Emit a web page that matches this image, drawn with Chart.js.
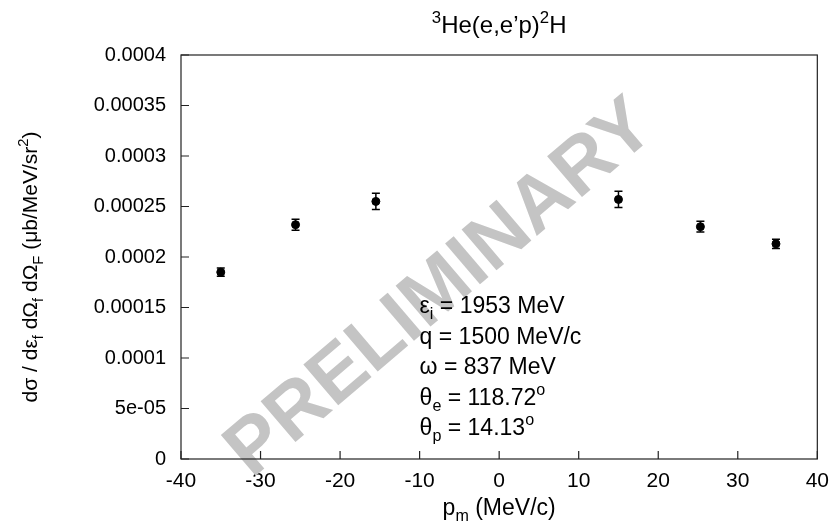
<!DOCTYPE html>
<html><head><meta charset="utf-8">
<script src="https://cdn.jsdelivr.net/npm/chart.js@4/dist/chart.umd.min.js"></script>
<style>html,body{margin:0;padding:0;background:#fff}#wrap{width:839px;height:526px;position:relative}</style>
</head><body><div id="wrap"><canvas id="c" width="839" height="526"></canvas></div>
<script>
// ---- data ----
const pm = [-35, -25.6, -15.5, 15, 25.3, 34.8];
const xsec = [0.000185, 0.000232, 0.000255, 0.000257, 0.000230, 0.000213];
const xsecErr = [0.000004, 0.0000055, 0.000008, 0.000008, 0.0000053, 0.0000045];
const yTickLabels = ['0','5e-05','0.0001','0.00015','0.0002','0.00025','0.0003','0.00035','0.0004'];
const titleParts = [['3','sup'],['He(e,e\u2019p)'],['2','sup'],['H']];
const xLabelParts = [['p'],['m','sub'],[' (MeV/c)']];
const yLabelParts = [['d\u03c3 / d\u03b5'],['f','sub'],[' d\u03a9'],['f','sub'],[' d\u03a9'],['F','sub'],[' (\u03bcb/MeV/sr'],['2','sup'],[')']];
const infoLines = [
  [['\u03b5'],['i','sub'],[' = 1953 MeV']],
  [['q = 1500 MeV/c']],
  [['\u03c9 = 837 MeV']],
  [['\u03b8'],['e','sub'],[' = 118.72'],['o','sup']],
  [['\u03b8'],['p','sub'],[' = 14.13'],['o','sup']]
];
const watermark = 'PRELIMINARY';

const FAM = '"Liberation Sans", Arial, Helvetica, sans-serif';

function richWidth(ctx, parts, size){
  let w = 0;
  for (const p of parts){ ctx.font = (p[1] ? size*0.7 : size) + 'px ' + FAM; w += ctx.measureText(p[0]).width; }
  return w;
}
function drawRich(ctx, parts, x, y, size, align){
  const w = richWidth(ctx, parts, size);
  let cx = align === 'center' ? x - w/2 : x;
  ctx.textAlign = 'left'; ctx.textBaseline = 'alphabetic';
  for (const p of parts){
    ctx.font = (p[1] ? size*0.7 : size) + 'px ' + FAM;
    const dy = p[1] === 'sub' ? size*0.28 : (p[1] === 'sup' ? -size*0.42 : 0);
    ctx.fillText(p[0], cx, y + dy);
    cx += ctx.measureText(p[0]).width;
  }
}

const decor = {
  id: 'decor',
  beforeDatasetsDraw(chart){
    const {ctx, chartArea: a, scales: {x, y}} = chart;
    // watermark
    ctx.save();
    ctx.translate(x.getPixelForValue(-7.3), y.getPixelForValue(0.000168));
    ctx.rotate(-40.5 * Math.PI/180);
    ctx.fillStyle = '#c4c4c4';
    ctx.font = 'bold 78px ' + FAM;
    ctx.textAlign = 'center'; ctx.textBaseline = 'middle';
    ctx.fillText(watermark, 0, 0);
    ctx.restore();
    // error bars
    ctx.save();
    ctx.strokeStyle = '#000'; ctx.lineWidth = 1.5;
    for (let i = 0; i < pm.length; i++){
      const px = x.getPixelForValue(pm[i]);
      const lo = y.getPixelForValue(xsec[i] - xsecErr[i]);
      const hi = y.getPixelForValue(xsec[i] + xsecErr[i]);
      ctx.beginPath();
      ctx.moveTo(px, lo); ctx.lineTo(px, hi);
      ctx.moveTo(px-4, lo); ctx.lineTo(px+4, lo);
      ctx.moveTo(px-4, hi); ctx.lineTo(px+4, hi);
      ctx.stroke();
    }
    ctx.restore();
  },
  afterDraw(chart){
    const {ctx, chartArea: a, scales: {x, y}} = chart;
    ctx.save();
    // frame
    ctx.strokeStyle = '#222'; ctx.lineWidth = 1.2;
    ctx.strokeRect(a.left, a.top, a.right - a.left, a.bottom - a.top);
    // inward ticks
    ctx.beginPath();
    for (const t of x.ticks){
      const px = x.getPixelForValue(t.value);
      ctx.moveTo(px, a.bottom); ctx.lineTo(px, a.bottom - 8);
    }
    for (const t of y.ticks){
      const py = y.getPixelForValue(t.value);
      ctx.moveTo(a.left, py); ctx.lineTo(a.left + 8, py);
    }
    ctx.stroke();
    ctx.fillStyle = '#000';
    // title
    drawRich(ctx, titleParts, (a.left + a.right)/2, 33, 24, 'center');
    // x label
    drawRich(ctx, xLabelParts, (a.left + a.right)/2, 515, 23, 'center');
    // y label
    ctx.save();
    ctx.translate(37, (a.top + a.bottom)/2 + 10);
    ctx.rotate(-Math.PI/2);
    drawRich(ctx, yLabelParts, 0, 0, 21, 'center');
    ctx.restore();
    // info block
    const lx = x.getPixelForValue(-10);
    const by = y.getPixelForValue(0.0001445);
    infoLines.forEach((ln, i) => drawRich(ctx, ln, lx, by + i*30.5, 23, 'left'));
    ctx.restore();
  }
};

new Chart(document.getElementById('c'), {
  type: 'scatter',
  data: {
    datasets: [{
      data: pm.map((v, i) => ({x: v, y: xsec[i]})),
      backgroundColor: '#000', borderColor: '#000',
      pointRadius: 4, pointHoverRadius: 4
    }]
  },
  options: {
    responsive: false, animation: false,
    layout: {padding: {top: 55, right: 20, left: 0, bottom: 0}},
    plugins: {legend: {display: false}, tooltip: {enabled: false}, title: {display: false}},
    scales: {
      x: {
        type: 'linear', min: -40, max: 40,
        grid: {display: false, drawTicks: false}, border: {display: false},
        ticks: {stepSize: 10, color: '#000', font: {family: FAM, size: 21}, padding: 10, maxRotation: 0},
        afterFit(s){ s.height = 67; }
      },
      y: {
        type: 'linear', min: 0, max: 0.0004,
        grid: {display: false, drawTicks: false}, border: {display: false},
        ticks: {stepSize: 0.00005, color: '#000', font: {family: FAM, size: 20}, padding: 15,
          callback: (v, i) => yTickLabels[i]},
        afterFit(s){ s.width = 181; }
      }
    }
  },
  plugins: [decor]
});
</script></body></html>
